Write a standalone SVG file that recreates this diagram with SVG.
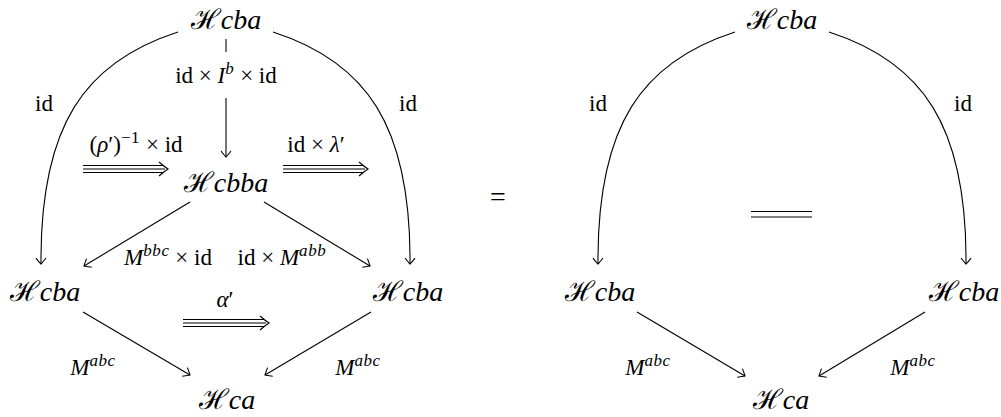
<svg xmlns="http://www.w3.org/2000/svg" width="1001" height="417" viewBox="0 0 1001 417">
<style>
.n{font-family:"Liberation Serif","DejaVu Serif",serif;font-size:28px;text-anchor:middle;fill:#000}
.l{font-family:"Liberation Serif","DejaVu Serif",serif;font-size:23px;text-anchor:middle;fill:#000}
.i{font-style:italic}
.s{font-size:17px;letter-spacing:0.6px}
.e{fill:none;stroke:#000;stroke-width:1.1}
</style>
<defs>
<marker id="to" viewBox="-8 -6 10 12" refX="0" refY="0" markerWidth="10" markerHeight="12" markerUnits="userSpaceOnUse" orient="auto">
<path d="M-6,-5 Q-1.5,-1.5 0,0 Q-1.5,1.5 -6,5" fill="none" stroke="#000" stroke-width="1.1"/>
</marker>
</defs>
<g id="nodes">
<g id="L-top"><text class="n" x="226" y="29">ℋ<tspan class="i">cba</tspan></text></g>
<g id="L-mid"><text class="n" x="226" y="192">ℋ<tspan class="i">cbba</tspan></text></g>
<g id="L-left"><text class="n" x="45" y="301">ℋ<tspan class="i">cba</tspan></text></g>
<g id="L-right"><text class="n" x="408" y="301">ℋ<tspan class="i">cba</tspan></text></g>
<g id="L-bot"><text class="n" x="227" y="409">ℋ<tspan class="i">ca</tspan></text></g>
<g id="R-top"><text class="n" x="782" y="29">ℋ<tspan class="i">cba</tspan></text></g>
<g id="R-left"><text class="n" x="600" y="301">ℋ<tspan class="i">cba</tspan></text></g>
<g id="R-right"><text class="n" x="964" y="301">ℋ<tspan class="i">cba</tspan></text></g>
<g id="R-bot"><text class="n" x="781" y="409">ℋ<tspan class="i">ca</tspan></text></g>
<g id="eq"><text class="n" x="498" y="206">=</text></g>
</g>
<g id="connectors">
<path class="e" d="M178,32 C85,62 40,125 41,264" marker-end="url(#to)"/>
<path class="e" d="M273,32 C366,62 411,125 410,264" marker-end="url(#to)"/>
<path class="e" d="M226,39 V52"/>
<path class="e" d="M226,98 V157" marker-end="url(#to)"/>
<path class="e" d="M190,202 L84,266" marker-end="url(#to)"/>
<path class="e" d="M264,202 L370,266" marker-end="url(#to)"/>
<path class="e" d="M83,312 L190,375" marker-end="url(#to)"/>
<path class="e" d="M371,312 L265,375" marker-end="url(#to)"/>
<path class="e" d="M735,32 C642,62 597,125 598,264" marker-end="url(#to)"/>
<path class="e" d="M829,32 C922,62 967,125 966,264" marker-end="url(#to)"/>
<path class="e" d="M637,312 L745,376" marker-end="url(#to)"/>
<path class="e" d="M925,312 L819,376" marker-end="url(#to)"/>
<g id="triple1" class="e"><path d="M83,165.5 H163 M83,169 H165 M83,172.5 H163"/><path d="M159,162 Q164,166.5 168,169 Q164,171.5 159,176"/></g>
<g id="triple2" class="e"><path d="M283,165.5 H363 M283,169 H365 M283,172.5 H363"/><path d="M359,162 Q364,166.5 368,169 Q364,171.5 359,176"/></g>
<g id="triple3" class="e"><path d="M183,319.5 H264 M183,323 H266 M183,326.5 H264"/><path d="M260,316 Q265,320.5 269,323 Q265,325.5 260,330"/></g>
<path class="e" d="M751,211.5 H812 M751,217 H812"/>
</g>
<g id="labels">
<text class="l" x="226" y="83">id × <tspan class="i">I</tspan><tspan class="i s" dy="-9">b</tspan><tspan dy="9"> × id</tspan></text>
<text class="l" x="44" y="111">id</text>
<text class="l" x="408" y="111">id</text>
<text class="l" x="136" y="152">(<tspan class="i">ρ</tspan>′)<tspan class="s" dy="-9">−1</tspan><tspan dy="9"> × id</tspan></text>
<text class="l" x="316" y="152">id × <tspan class="i">λ</tspan>′</text>
<text class="l" x="168" y="265"><tspan class="i">M</tspan><tspan class="i s" dy="-9">bbc</tspan><tspan dy="9"> × id</tspan></text>
<text class="l" x="282" y="265">id × <tspan class="i">M</tspan><tspan class="i s" dy="-9">abb</tspan></text>
<text class="l" x="225" y="307"><tspan class="i">α</tspan>′</text>
<text class="l" x="93" y="375"><tspan class="i">M</tspan><tspan class="i s" dy="-9">abc</tspan></text>
<text class="l" x="358" y="375"><tspan class="i">M</tspan><tspan class="i s" dy="-9">abc</tspan></text>
<text class="l" x="598" y="111">id</text>
<text class="l" x="963" y="111">id</text>
<text class="l" x="648" y="375"><tspan class="i">M</tspan><tspan class="i s" dy="-9">abc</tspan></text>
<text class="l" x="913" y="375"><tspan class="i">M</tspan><tspan class="i s" dy="-9">abc</tspan></text>
</g>
</svg>
